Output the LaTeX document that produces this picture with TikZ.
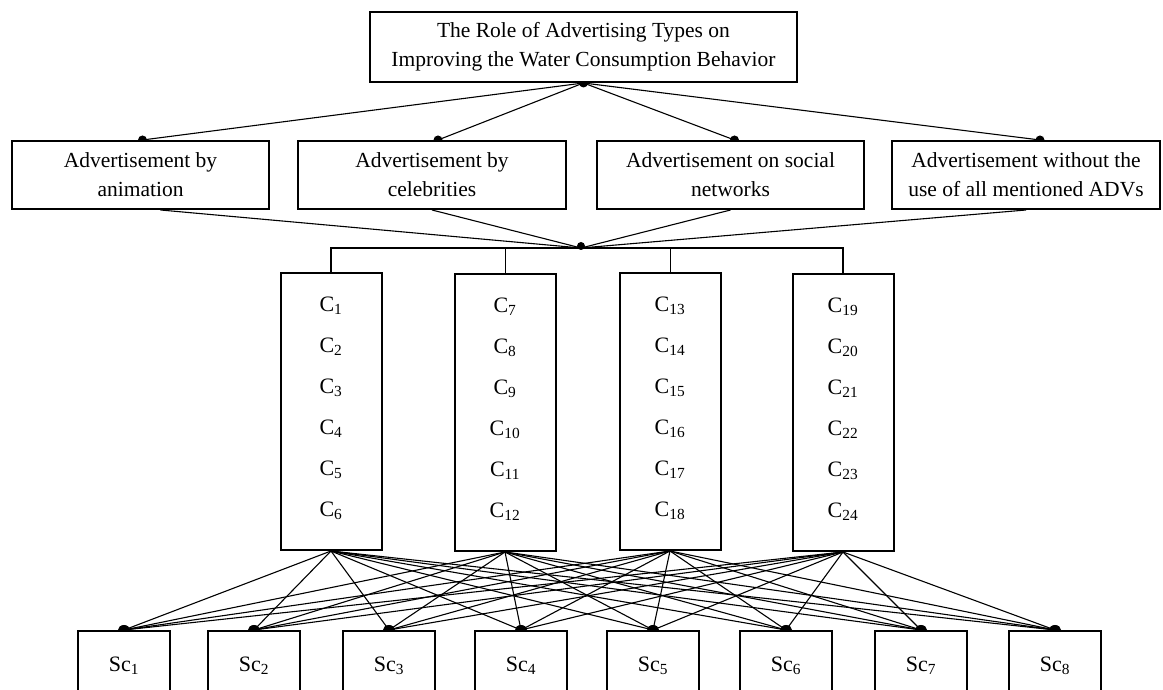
\documentclass[tikz,border=0pt]{standalone}
\usepackage{fontspec}
\setmainfont{Liberation Serif}
\usepackage{tikz}
\usetikzlibrary{backgrounds}

\begin{document}
\begin{tikzpicture}[
  x=1pt, y=1pt,
  box/.style={draw=black, fill=white, line width=2pt, align=center, inner sep=0pt, minimum height=68pt, font=\fontsize{21.5}{29}\selectfont},
  critbox/.style={draw=black, fill=white, line width=2pt, align=center, inner sep=0pt, minimum width=101pt, minimum height=277pt, font=\fontsize{22}{41}\selectfont},
  scbox/.style={draw=black, fill=white, line width=2pt, inner sep=0pt, minimum width=92pt, minimum height=70pt, font=\fontsize{22}{26}\selectfont},
  link/.style={line width=1.1pt},
  bar/.style={line width=2pt},
  thinbar/.style={line width=0.8pt}
]
\useasboundingbox (0,0) rectangle (1163,690);

% goal
\node[box, minimum width=427pt, minimum height=70pt] (title) at (583.5,643) {The Role of Advertising Types on\\Improving the Water Consumption Behavior};

% advertising types
\node[box, minimum width=257pt] (anim) at (140.5,515) {Advertisement by\\animation};
\node[box, minimum width=268pt] (celeb) at (432,515) {Advertisement by\\celebrities};
\node[box, minimum width=267pt] (social) at (730.5,515) {Advertisement on social\\networks};
\node[box, minimum width=268pt] (none) at (1026,515) {Advertisement without the\\use of all mentioned ADVs};

% criteria
\node[critbox] (c1) at (331,278.5) {C\textsubscript{1}\\C\textsubscript{2}\\C\textsubscript{3}\\C\textsubscript{4}\\C\textsubscript{5}\\C\textsubscript{6}\rule[-9pt]{0pt}{9pt}};
\node[critbox] (c7) at (505,277.5) {C\textsubscript{7}\\C\textsubscript{8}\\C\textsubscript{9}\\C\textsubscript{10}\\C\textsubscript{11}\\C\textsubscript{12}\rule[-9pt]{0pt}{9pt}};
\node[critbox] (c13) at (670,278.5) {C\textsubscript{13}\\C\textsubscript{14}\\C\textsubscript{15}\\C\textsubscript{16}\\C\textsubscript{17}\\C\textsubscript{18}\rule[-9pt]{0pt}{9pt}};
\node[critbox] (c19) at (843,277.5) {C\textsubscript{19}\\C\textsubscript{20}\\C\textsubscript{21}\\C\textsubscript{22}\\C\textsubscript{23}\\C\textsubscript{24}\rule[-9pt]{0pt}{9pt}};

% sub-criteria
\node[scbox] (sc1) at (124,24) {Sc\textsubscript{1}};
\node[scbox] (sc2) at (254,24) {Sc\textsubscript{2}};
\node[scbox] (sc3) at (389,24) {Sc\textsubscript{3}};
\node[scbox] (sc4) at (521,24) {Sc\textsubscript{4}};
\node[scbox] (sc5) at (653,24) {Sc\textsubscript{5}};
\node[scbox] (sc6) at (786,24) {Sc\textsubscript{6}};
\node[scbox] (sc7) at (921,24) {Sc\textsubscript{7}};
\node[scbox] (sc8) at (1055,24) {Sc\textsubscript{8}};

\coordinate (hub) at (581,442);
\coordinate (animtop) at ([xshift=2pt]anim.north);
\coordinate (celebtop) at ([xshift=6pt]celeb.north);
\coordinate (socialtop) at ([xshift=4pt]social.north);
\coordinate (nonetop) at ([xshift=14pt]none.north);

\begin{scope}[on background layer]
\draw[link] (title.south) -- (animtop);
\draw[link] (title.south) -- (celebtop);
\draw[link] (title.south) -- (socialtop);
\draw[link] (title.south) -- (nonetop);
\fill (title.south) circle (4.5);
\foreach \t in {animtop,celebtop,socialtop,nonetop}
  \fill (\t) circle (4.5);

\draw[link] ([xshift=20pt]anim.south) -- (hub);
\draw[link] (celeb.south) -- (hub);
\draw[link] (social.south) -- (hub);
\draw[link] (none.south) -- (hub);
\fill ([yshift=2pt]hub) circle (4);

\draw[bar] (c1.north) -- (c1.north |- hub) -- (c19.north |- hub) -- (c19.north);
\draw[thinbar] (c7.north) -- (c7.north |- hub);
\draw[thinbar] (c13.north) -- (c13.north |- hub);

\foreach \c in {c1,c7,c13,c19}
  \foreach \s in {sc1,sc2,sc3,sc4,sc5,sc6,sc7,sc8}
    \draw[link] (\c.south) -- (\s.north);
\foreach \s in {sc1,sc2,sc3,sc4,sc5,sc6,sc7,sc8}
  \fill (\s.north) ellipse (6 and 5);
\end{scope}
\end{tikzpicture}
\end{document}
